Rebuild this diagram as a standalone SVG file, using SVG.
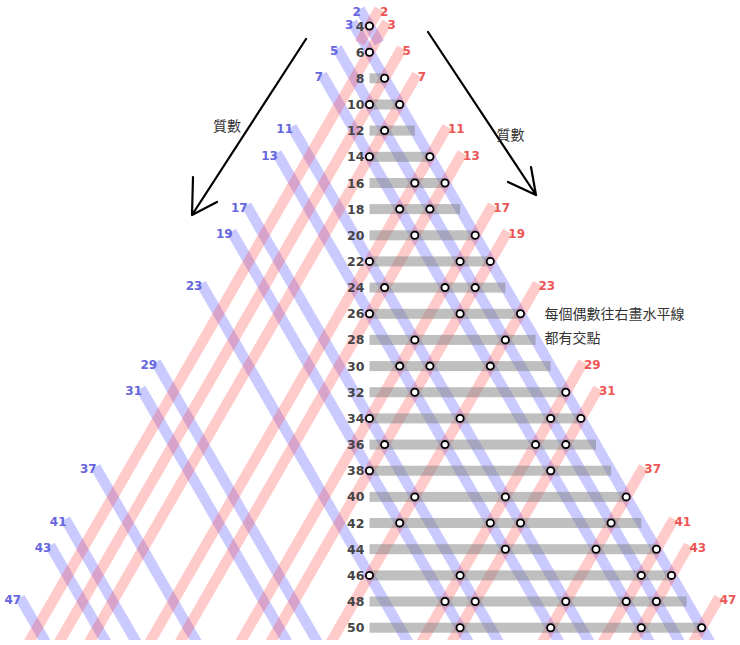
<svg xmlns="http://www.w3.org/2000/svg" width="740" height="645" viewBox="0 0 740 645">
<style>
.bl{stroke:#4040ff;stroke-opacity:0.28;stroke-width:10.5;fill:none}
.rl{stroke:#ff4040;stroke-opacity:0.28;stroke-width:10.5;fill:none}
.bar{fill:#808080;fill-opacity:0.5}
.pt{fill:#fff;stroke:#000;stroke-width:1.8}
.rn{font-family:"DejaVu Sans",sans-serif;font-weight:bold;font-size:12.5px;fill:#454545;text-anchor:end}
.bn{font-family:"DejaVu Sans",sans-serif;font-weight:bold;font-size:12px;fill:#6666dd;text-anchor:end}
.rd{font-family:"DejaVu Sans",sans-serif;font-weight:bold;font-size:12px;fill:#ee5555;text-anchor:start}
.cj{font-family:"Noto Sans CJK TC","Noto Sans CJK SC",sans-serif;font-size:14px;fill:#333}
.ar{stroke:#000;stroke-width:2.2;fill:none;stroke-linecap:round;stroke-linejoin:round}
</style>
<defs>
<clipPath id="clip"><rect x="0" y="0" width="740" height="640"/></clipPath>
</defs>
<rect width="740" height="645" fill="#fff"/>
<g id="connectors" clip-path="url(#clip)">
<path class="bl" d="M359.7,9.0 L379.3,43"/>
<path class="bl" d="M352.2,22.1 L714.6,650"/>
<path class="bl" d="M337.1,48.2 L684.4,650"/>
<path class="bl" d="M322.0,74.4 L654.2,650"/>
<path class="bl" d="M291.8,126.7 L593.8,650"/>
<path class="bl" d="M276.7,152.9 L563.6,650"/>
<path class="bl" d="M246.5,205.2 L503.2,650"/>
<path class="bl" d="M231.4,231.4 L473.0,650"/>
<path class="bl" d="M201.2,283.7 L412.6,650"/>
<path class="bl" d="M155.9,362.2 L322.0,650"/>
<path class="bl" d="M140.8,388.3 L291.8,650"/>
<path class="bl" d="M95.5,466.8 L201.2,650"/>
<path class="bl" d="M65.3,519.1 L140.8,650"/>
<path class="bl" d="M50.2,545.3 L110.6,650"/>
<path class="bl" d="M19.9,597.6 L50.2,650"/>
<path class="rl" d="M379.3,9.0 L359.7,43"/>
<path class="rl" d="M386.9,22.1 L24.4,650"/>
<path class="rl" d="M401.9,48.2 L54.6,650"/>
<path class="rl" d="M417.0,74.4 L84.8,650"/>
<path class="rl" d="M447.2,126.7 L145.2,650"/>
<path class="rl" d="M462.4,152.9 L175.4,650"/>
<path class="rl" d="M492.6,205.2 L235.8,650"/>
<path class="rl" d="M507.6,231.4 L266.0,650"/>
<path class="rl" d="M537.8,283.7 L326.4,650"/>
<path class="rl" d="M583.2,362.2 L417.0,650"/>
<path class="rl" d="M598.2,388.3 L447.2,650"/>
<path class="rl" d="M643.6,466.8 L537.8,650"/>
<path class="rl" d="M673.8,519.1 L598.2,650"/>
<path class="rl" d="M688.8,545.3 L628.4,650"/>
<path class="rl" d="M719.0,597.6 L688.8,650"/>
</g>
<g id="prime-labels">
<text class="bn" x="360.9" y="15.6">2</text>
<text class="bn" x="353.4" y="28.7">3</text>
<text class="bn" x="338.3" y="54.8">5</text>
<text class="bn" x="323.2" y="81.0">7</text>
<text class="bn" x="293.0" y="133.3">11</text>
<text class="bn" x="277.9" y="159.5">13</text>
<text class="bn" x="247.7" y="211.8">17</text>
<text class="bn" x="232.6" y="238.0">19</text>
<text class="bn" x="202.4" y="290.3">23</text>
<text class="bn" x="157.1" y="368.8">29</text>
<text class="bn" x="142.0" y="394.9">31</text>
<text class="bn" x="96.7" y="473.4">37</text>
<text class="bn" x="66.5" y="525.7">41</text>
<text class="bn" x="51.4" y="551.9">43</text>
<text class="bn" x="21.1" y="604.2">47</text>
<text class="rd" x="380.0" y="15.6">2</text>
<text class="rd" x="387.6" y="28.7">3</text>
<text class="rd" x="402.6" y="54.8">5</text>
<text class="rd" x="417.7" y="81.0">7</text>
<text class="rd" x="447.9" y="133.3">11</text>
<text class="rd" x="463.1" y="159.5">13</text>
<text class="rd" x="493.3" y="211.8">17</text>
<text class="rd" x="508.3" y="238.0">19</text>
<text class="rd" x="538.5" y="290.3">23</text>
<text class="rd" x="583.9" y="368.8">29</text>
<text class="rd" x="598.9" y="394.9">31</text>
<text class="rd" x="644.3" y="473.4">37</text>
<text class="rd" x="674.5" y="525.7">41</text>
<text class="rd" x="689.5" y="551.9">43</text>
<text class="rd" x="719.7" y="604.2">47</text>
</g>
<g id="row-4"><text class="rn" x="364.5" y="30.5">4</text><circle class="pt" cx="369.5" cy="26.0" r="3.6"/></g>
<g id="row-6"><text class="rn" x="364.5" y="56.7">6</text><circle class="pt" cx="369.5" cy="52.2" r="3.6"/></g>
<g id="row-8"><rect class="bar" x="369.5" y="73.3" width="15.1" height="10"/><text class="rn" x="364.5" y="82.8">8</text><circle class="pt" cx="384.6" cy="78.3" r="3.6"/></g>
<g id="row-10"><rect class="bar" x="369.5" y="99.5" width="30.2" height="10"/><text class="rn" x="364.5" y="109.0">10</text><circle class="pt" cx="369.5" cy="104.5" r="3.6"/><circle class="pt" cx="399.7" cy="104.5" r="3.6"/></g>
<g id="row-12"><rect class="bar" x="369.5" y="125.6" width="45.3" height="10"/><text class="rn" x="364.5" y="135.1">12</text><circle class="pt" cx="384.6" cy="130.6" r="3.6"/></g>
<g id="row-14"><rect class="bar" x="369.5" y="151.8" width="60.4" height="10"/><text class="rn" x="364.5" y="161.3">14</text><circle class="pt" cx="369.5" cy="156.8" r="3.6"/><circle class="pt" cx="429.9" cy="156.8" r="3.6"/></g>
<g id="row-16"><rect class="bar" x="369.5" y="178.0" width="75.5" height="10"/><text class="rn" x="364.5" y="187.5">16</text><circle class="pt" cx="414.8" cy="183.0" r="3.6"/><circle class="pt" cx="445.0" cy="183.0" r="3.6"/></g>
<g id="row-18"><rect class="bar" x="369.5" y="204.1" width="90.6" height="10"/><text class="rn" x="364.5" y="213.6">18</text><circle class="pt" cx="399.7" cy="209.1" r="3.6"/><circle class="pt" cx="429.9" cy="209.1" r="3.6"/></g>
<g id="row-20"><rect class="bar" x="369.5" y="230.3" width="105.7" height="10"/><text class="rn" x="364.5" y="239.8">20</text><circle class="pt" cx="414.8" cy="235.3" r="3.6"/><circle class="pt" cx="475.2" cy="235.3" r="3.6"/></g>
<g id="row-22"><rect class="bar" x="369.5" y="256.4" width="120.8" height="10"/><text class="rn" x="364.5" y="265.9">22</text><circle class="pt" cx="369.5" cy="261.4" r="3.6"/><circle class="pt" cx="460.1" cy="261.4" r="3.6"/><circle class="pt" cx="490.3" cy="261.4" r="3.6"/></g>
<g id="row-24"><rect class="bar" x="369.5" y="282.6" width="135.9" height="10"/><text class="rn" x="364.5" y="292.1">24</text><circle class="pt" cx="384.6" cy="287.6" r="3.6"/><circle class="pt" cx="445.0" cy="287.6" r="3.6"/><circle class="pt" cx="475.2" cy="287.6" r="3.6"/></g>
<g id="row-26"><rect class="bar" x="369.5" y="308.8" width="151.0" height="10"/><text class="rn" x="364.5" y="318.3">26</text><circle class="pt" cx="369.5" cy="313.8" r="3.6"/><circle class="pt" cx="460.1" cy="313.8" r="3.6"/><circle class="pt" cx="520.5" cy="313.8" r="3.6"/></g>
<g id="row-28"><rect class="bar" x="369.5" y="334.9" width="166.1" height="10"/><text class="rn" x="364.5" y="344.4">28</text><circle class="pt" cx="414.8" cy="339.9" r="3.6"/><circle class="pt" cx="505.4" cy="339.9" r="3.6"/></g>
<g id="row-30"><rect class="bar" x="369.5" y="361.1" width="181.2" height="10"/><text class="rn" x="364.5" y="370.6">30</text><circle class="pt" cx="399.7" cy="366.1" r="3.6"/><circle class="pt" cx="429.9" cy="366.1" r="3.6"/><circle class="pt" cx="490.3" cy="366.1" r="3.6"/></g>
<g id="row-32"><rect class="bar" x="369.5" y="387.2" width="196.3" height="10"/><text class="rn" x="364.5" y="396.7">32</text><circle class="pt" cx="414.8" cy="392.2" r="3.6"/><circle class="pt" cx="565.8" cy="392.2" r="3.6"/></g>
<g id="row-34"><rect class="bar" x="369.5" y="413.4" width="211.4" height="10"/><text class="rn" x="364.5" y="422.9">34</text><circle class="pt" cx="369.5" cy="418.4" r="3.6"/><circle class="pt" cx="460.1" cy="418.4" r="3.6"/><circle class="pt" cx="550.7" cy="418.4" r="3.6"/><circle class="pt" cx="580.9" cy="418.4" r="3.6"/></g>
<g id="row-36"><rect class="bar" x="369.5" y="439.6" width="226.5" height="10"/><text class="rn" x="364.5" y="449.1">36</text><circle class="pt" cx="384.6" cy="444.6" r="3.6"/><circle class="pt" cx="445.0" cy="444.6" r="3.6"/><circle class="pt" cx="535.6" cy="444.6" r="3.6"/><circle class="pt" cx="565.8" cy="444.6" r="3.6"/></g>
<g id="row-38"><rect class="bar" x="369.5" y="465.7" width="241.6" height="10"/><text class="rn" x="364.5" y="475.2">38</text><circle class="pt" cx="369.5" cy="470.7" r="3.6"/><circle class="pt" cx="550.7" cy="470.7" r="3.6"/></g>
<g id="row-40"><rect class="bar" x="369.5" y="491.9" width="256.7" height="10"/><text class="rn" x="364.5" y="501.4">40</text><circle class="pt" cx="414.8" cy="496.9" r="3.6"/><circle class="pt" cx="505.4" cy="496.9" r="3.6"/><circle class="pt" cx="626.2" cy="496.9" r="3.6"/></g>
<g id="row-42"><rect class="bar" x="369.5" y="518.0" width="271.8" height="10"/><text class="rn" x="364.5" y="527.5">42</text><circle class="pt" cx="399.7" cy="523.0" r="3.6"/><circle class="pt" cx="490.3" cy="523.0" r="3.6"/><circle class="pt" cx="520.5" cy="523.0" r="3.6"/><circle class="pt" cx="611.1" cy="523.0" r="3.6"/></g>
<g id="row-44"><rect class="bar" x="369.5" y="544.2" width="286.9" height="10"/><text class="rn" x="364.5" y="553.7">44</text><circle class="pt" cx="505.4" cy="549.2" r="3.6"/><circle class="pt" cx="596.0" cy="549.2" r="3.6"/><circle class="pt" cx="656.4" cy="549.2" r="3.6"/></g>
<g id="row-46"><rect class="bar" x="369.5" y="570.4" width="302.0" height="10"/><text class="rn" x="364.5" y="579.9">46</text><circle class="pt" cx="369.5" cy="575.4" r="3.6"/><circle class="pt" cx="460.1" cy="575.4" r="3.6"/><circle class="pt" cx="641.3" cy="575.4" r="3.6"/><circle class="pt" cx="671.5" cy="575.4" r="3.6"/></g>
<g id="row-48"><rect class="bar" x="369.5" y="596.5" width="317.1" height="10"/><text class="rn" x="364.5" y="606.0">48</text><circle class="pt" cx="445.0" cy="601.5" r="3.6"/><circle class="pt" cx="475.2" cy="601.5" r="3.6"/><circle class="pt" cx="565.8" cy="601.5" r="3.6"/><circle class="pt" cx="626.2" cy="601.5" r="3.6"/><circle class="pt" cx="656.4" cy="601.5" r="3.6"/></g>
<g id="row-50"><rect class="bar" x="369.5" y="622.7" width="332.2" height="10"/><text class="rn" x="364.5" y="632.2">50</text><circle class="pt" cx="460.1" cy="627.7" r="3.6"/><circle class="pt" cx="550.7" cy="627.7" r="3.6"/><circle class="pt" cx="641.3" cy="627.7" r="3.6"/><circle class="pt" cx="701.7" cy="627.7" r="3.6"/></g>
<g id="arrow-left"><path class="ar" d="M306,39 L192,215 M193,177 L192,215 L217,202"/><text class="cj" x="227" y="131" text-anchor="middle">質數</text></g>
<g id="arrow-right"><path class="ar" d="M428,32 L536,195 M508,182 L536,195 L531,167"/><text class="cj" x="510.5" y="139.5" text-anchor="middle">質數</text></g>
<g id="note"><text class="cj" x="544.5" y="319.4">每個偶數往右畫水平線</text><text class="cj" x="544.5" y="343.4">都有交點</text></g>
</svg>
